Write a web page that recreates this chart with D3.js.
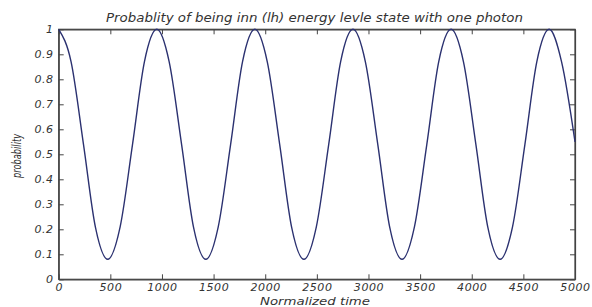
<!DOCTYPE html>
<html>
<head>
<meta charset="utf-8">
<script src="https://cdn.jsdelivr.net/npm/d3@7"></script>
<style>
  body { margin: 0; background: #fff; }
  text { font-family: "DejaVu Sans", Verdana, sans-serif; font-style: italic; fill: #333; }
</style>
</head>
<body>
<svg id="chart" width="592" height="307"></svg>
<script>
// values (peaks, troughs and in-between points)
var timeValues = [0, 120, 240, 355, 475, 595, 715, 830, 950, 1070, 1190, 1305, 1425, 1545, 1665, 1780,
    1900, 2020, 2140, 2255, 2375, 2495, 2615, 2730, 2850, 2970, 3090, 3205, 3325, 3445, 3565, 3680,
    3800, 3920, 4040, 4155, 4275, 4395, 4515, 4630, 4750, 4870, 5000];
var probValues = [1, 0.87, 0.54, 0.21, 0.08, 0.21, 0.54, 0.87, 1, 0.87, 0.54, 0.21, 0.08, 0.21, 0.54, 0.87,
    1, 0.87, 0.54, 0.21, 0.08, 0.21, 0.54, 0.87, 1, 0.87, 0.54, 0.21, 0.08, 0.21, 0.54, 0.87,
    1, 0.87, 0.54, 0.21, 0.08, 0.21, 0.54, 0.87, 1, 0.87, 0.55];
var xTicks = [0, 500, 1000, 1500, 2000, 2500, 3000, 3500, 4000, 4500, 5000];
var yTicks = [0, 0.1, 0.2, 0.3, 0.4, 0.5, 0.6, 0.7, 0.8, 0.9, 1];
var titleText = "Probablity of being inn (lh) energy levle state with one photon";
var xLabel = "Normalized time";
var yLabel = "probability";

var plotLeft = 58.7, plotRight = 575, plotTop = 29.3, plotBottom = 279.3;

var svg = d3.select('#chart');

var x = d3.scaleLinear().domain([0, 5000]).range([plotLeft, plotRight]);
var y = d3.scaleLinear().domain([0, 1]).range([plotBottom, plotTop]);

var fmt = function (d) { return d === 0 || d === 1 ? String(d) : d3.format('.1f')(d); };

// bottom and left axes with labels, ticks pointing inward
svg.append('g').attr('transform', 'translate(0,' + plotBottom + ')')
    .call(d3.axisBottom(x).tickValues(xTicks).tickSizeInner(-5).tickSizeOuter(0).tickPadding(4).tickFormat(d3.format('d')));
svg.append('g').attr('transform', 'translate(' + plotLeft + ',0)')
    .call(d3.axisLeft(y).tickValues(yTicks).tickSizeInner(-5).tickSizeOuter(0).tickPadding(5).tickFormat(fmt));
// top and right, ticks only
svg.append('g').attr('transform', 'translate(0,' + plotTop + ')')
    .call(d3.axisTop(x).tickValues(xTicks).tickSizeInner(-5).tickSizeOuter(0).tickFormat(''));
svg.append('g').attr('transform', 'translate(' + plotRight + ',0)')
    .call(d3.axisRight(y).tickValues(yTicks).tickSizeInner(-5).tickSizeOuter(0).tickFormat(''));

svg.selectAll('.domain').attr('stroke', '#444').attr('stroke-width', 1.2);
svg.selectAll('.tick line').attr('stroke', '#444');
svg.selectAll('.tick text')
    .attr('fill', '#333')
    .attr('font-size', 11)
    .attr('letter-spacing', 0.6)
    .style('font-family', '"DejaVu Sans", Verdana, sans-serif')
    .style('font-style', 'italic');

// frame
svg.append('rect')
    .attr('x', plotLeft).attr('y', plotTop)
    .attr('width', plotRight - plotLeft).attr('height', plotBottom - plotTop)
    .attr('fill', 'none').attr('stroke', '#444').attr('stroke-width', 1.2);

var points = timeValues.map((t, i) => [t, probValues[i]]);
var line = d3.line()
    .x(d => x(d[0]))
    .y(d => y(d[1]))
    .curve(d3.curveMonotoneX);

svg.append('path')
    .datum(points)
    .attr('d', line)
    .attr('fill', 'none')
    .attr('stroke', '#2b3170')
    .attr('stroke-width', 1.4);

svg.append('text')
    .attr('x', 314.5).attr('y', 22)
    .attr('text-anchor', 'middle').attr('font-size', 11.5)
    .attr('textLength', 417).attr('lengthAdjust', 'spacingAndGlyphs')
    .text(titleText);

svg.append('text')
    .attr('x', 315).attr('y', 305)
    .attr('text-anchor', 'middle').attr('font-size', 10.5)
    .attr('textLength', 110).attr('lengthAdjust', 'spacingAndGlyphs')
    .text(xLabel);

svg.append('text')
    .attr('transform', 'translate(21,' + 156 + ') rotate(-90)')
    .attr('text-anchor', 'middle').attr('font-size', 12.5)
    .attr('textLength', 44).attr('lengthAdjust', 'spacingAndGlyphs')
    .text(yLabel);
</script>
</body>
</html>
